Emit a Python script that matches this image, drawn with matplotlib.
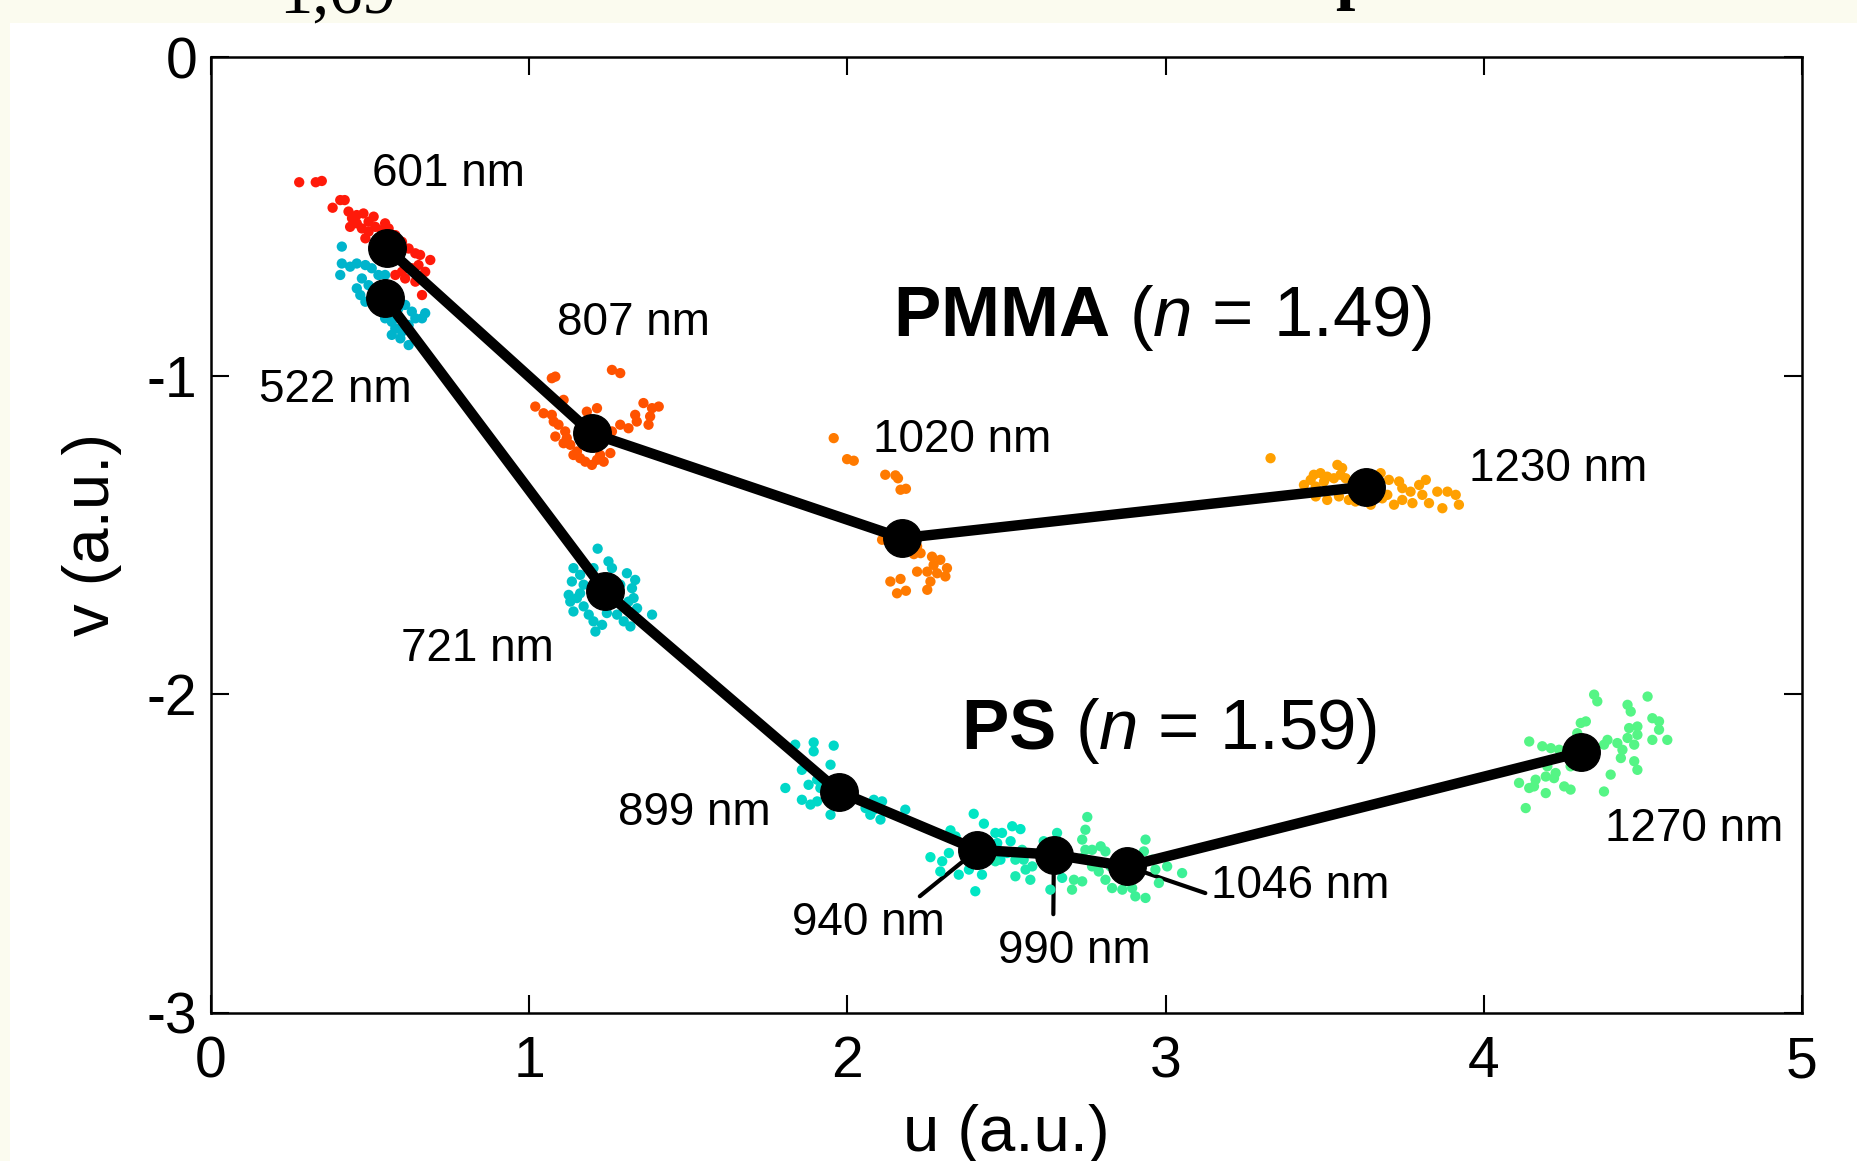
import matplotlib
matplotlib.use('Agg')
import matplotlib.pyplot as plt
import numpy as np

plt.rcParams['font.family'] = ['Liberation Sans', 'DejaVu Sans']
plt.rcParams['axes.unicode_minus'] = False
plt.rcParams['mathtext.fontset'] = 'custom'
plt.rcParams['mathtext.rm'] = 'Liberation Sans'
plt.rcParams['mathtext.bf'] = 'Liberation Sans:bold'
plt.rcParams['mathtext.it'] = 'Liberation Sans:italic'

# fitted cluster centres (u, v) for each wavelength
pmma_nm = ['601 nm', '807 nm', '1020 nm', '1230 nm']
pmma_u = [0.553, 1.197, 2.172, 3.629]
pmma_v = [-0.600, -1.181, -1.510, -1.348]

ps_nm = ['522 nm', '721 nm', '899 nm', '940 nm', '990 nm', '1046 nm', '1270 nm']
ps_u = [0.547, 1.239, 1.973, 2.408, 2.649, 2.879, 4.305]
ps_v = [-0.757, -1.677, -2.305, -2.488, -2.503, -2.540, -2.182]

cloud_601 = [(0.277, -0.393), (0.329, -0.393), (0.348, -0.389), (0.382, -0.473), (0.406, -0.449),
             (0.420, -0.449), (0.432, -0.485), (0.443, -0.506), (0.458, -0.522), (0.479, -0.491),
             (0.511, -0.501), (0.474, -0.538), (0.495, -0.548), (0.516, -0.533), (0.537, -0.543),
             (0.558, -0.538), (0.579, -0.559), (0.600, -0.580), (0.621, -0.601), (0.642, -0.616),
             (0.657, -0.621), (0.689, -0.637), (0.652, -0.653), (0.631, -0.663), (0.600, -0.674),
             (0.579, -0.684), (0.610, -0.695), (0.642, -0.705), (0.673, -0.674), (0.663, -0.747),
             (0.547, -0.522), (0.495, -0.517), (0.458, -0.496), (0.437, -0.533), (0.485, -0.569),
             (0.579, -0.616)]
cloud_522 = [(0.411, -0.595), (0.411, -0.648), (0.406, -0.684), (0.437, -0.658), (0.458, -0.648),
             (0.485, -0.653), (0.505, -0.663), (0.526, -0.684), (0.547, -0.684), (0.474, -0.695),
             (0.458, -0.726), (0.469, -0.747), (0.485, -0.768), (0.516, -0.778), (0.537, -0.799),
             (0.547, -0.820), (0.568, -0.831), (0.579, -0.852), (0.600, -0.862), (0.621, -0.841),
             (0.642, -0.820), (0.663, -0.820), (0.673, -0.804), (0.631, -0.799), (0.610, -0.778),
             (0.589, -0.789), (0.568, -0.872), (0.621, -0.904), (0.595, -0.883), (0.495, -0.716),
             (0.537, -0.716)]
cloud_807 = [(1.071, -1.008), (1.082, -1.003), (1.260, -0.982), (1.286, -0.992), (1.019, -1.097),
             (1.045, -1.118), (1.071, -1.123), (1.077, -1.144), (1.092, -1.154), (1.108, -1.076),
             (1.113, -1.175), (1.082, -1.191), (1.118, -1.196), (1.129, -1.217), (1.150, -1.238),
             (1.160, -1.259), (1.176, -1.270), (1.197, -1.280), (1.213, -1.264), (1.223, -1.249),
             (1.181, -1.113), (1.213, -1.102), (1.255, -1.243), (1.260, -1.175), (1.286, -1.154),
             (1.312, -1.165), (1.338, -1.144), (1.333, -1.123), (1.359, -1.086), (1.386, -1.102),
             (1.407, -1.097), (1.380, -1.128), (1.375, -1.154), (1.108, -1.212), (1.139, -1.249),
             (1.234, -1.270)]
cloud_721 = [(1.215, -1.543), (1.249, -1.583), (1.260, -1.604), (1.307, -1.620), (1.333, -1.641),
             (1.323, -1.667), (1.328, -1.698), (1.312, -1.709), (1.339, -1.730), (1.386, -1.750),
             (1.139, -1.604), (1.160, -1.625), (1.134, -1.646), (1.171, -1.656), (1.124, -1.688),
             (1.129, -1.709), (1.150, -1.698), (1.171, -1.724), (1.139, -1.740), (1.187, -1.750),
             (1.202, -1.771), (1.208, -1.803), (1.229, -1.782), (1.244, -1.745), (1.276, -1.750),
             (1.297, -1.771), (1.318, -1.787), (1.160, -1.683), (1.286, -1.656), (1.202, -1.604)]
cloud_1020 = [(1.957, -1.196), (1.999, -1.262), (2.020, -1.267), (2.119, -1.311), (2.151, -1.313),
              (2.159, -1.322), (2.167, -1.358), (2.184, -1.355), (2.109, -1.515), (2.209, -1.560),
              (2.219, -1.536), (2.219, -1.615), (2.251, -1.615), (2.266, -1.568), (2.292, -1.578),
              (2.271, -1.594), (2.261, -1.646), (2.282, -1.620), (2.313, -1.604), (2.308, -1.630),
              (2.251, -1.672), (2.135, -1.646), (2.167, -1.638), (2.156, -1.683), (2.184, -1.675),
              (2.230, -1.557)]
cloud_1230 = [(3.330, -1.259), (3.540, -1.280), (3.555, -1.290), (3.466, -1.311), (3.487, -1.306),
              (3.508, -1.317), (3.529, -1.322), (3.435, -1.343), (3.456, -1.327), (3.472, -1.348),
              (3.498, -1.332), (3.550, -1.311), (3.566, -1.322), (3.676, -1.306), (3.702, -1.327),
              (3.734, -1.332), (3.744, -1.353), (3.770, -1.364), (3.797, -1.343), (3.818, -1.327),
              (3.807, -1.374), (3.828, -1.400), (3.854, -1.364), (3.870, -1.416), (3.886, -1.364),
              (3.912, -1.374), (3.922, -1.405), (3.718, -1.405), (3.744, -1.390), (3.776, -1.400),
              (3.681, -1.385), (3.697, -1.374), (3.472, -1.379), (3.508, -1.390), (3.545, -1.379),
              (3.597, -1.395), (3.645, -1.405), (3.576, -1.390)]
cloud_899 = [(1.836, -2.158), (1.894, -2.151), (1.894, -2.179), (1.957, -2.161), (1.947, -2.221),
             (1.857, -2.237), (1.905, -2.268), (1.878, -2.284), (1.805, -2.294), (1.857, -2.331),
             (1.884, -2.346), (1.905, -2.336), (1.915, -2.294), (1.947, -2.378), (2.057, -2.357),
             (2.083, -2.331), (2.109, -2.336), (2.072, -2.378), (2.104, -2.393), (2.182, -2.362),
             (2.083, -2.362)]
cloud_940 = [(2.261, -2.511), (2.298, -2.524), (2.292, -2.556), (2.319, -2.498), (2.324, -2.427),
             (2.340, -2.446), (2.350, -2.566), (2.382, -2.550), (2.397, -2.375), (2.429, -2.406),
             (2.402, -2.618), (2.423, -2.566), (2.465, -2.435), (2.486, -2.435), (2.471, -2.467),
             (2.481, -2.519), (2.518, -2.414), (2.544, -2.423), (2.513, -2.461), (2.502, -2.498)]
cloud_990 = [(2.528, -2.519), (2.554, -2.519), (2.560, -2.550), (2.528, -2.571), (2.575, -2.582),
             (2.581, -2.540), (2.602, -2.498), (2.623, -2.519), (2.659, -2.435), (2.638, -2.613),
             (2.675, -2.576), (2.617, -2.461), (2.465, -2.524), (2.549, -2.488)]
cloud_1046 = [(2.754, -2.385), (2.748, -2.425), (2.738, -2.456), (2.748, -2.488), (2.769, -2.488),
              (2.796, -2.477), (2.811, -2.493), (2.738, -2.514), (2.769, -2.540), (2.790, -2.556),
              (2.811, -2.582), (2.712, -2.582), (2.738, -2.587), (2.706, -2.613), (2.827, -2.540),
              (2.832, -2.608), (2.864, -2.613), (2.905, -2.634), (2.937, -2.639), (2.895, -2.608),
              (2.937, -2.456), (2.932, -2.493), (2.968, -2.550), (2.979, -2.592), (3.005, -2.540),
              (3.052, -2.561), (2.958, -2.519), (2.874, -2.587), (2.843, -2.519)]
cloud_1270 = [(4.347, -2.001), (4.357, -2.022), (4.452, -2.033), (4.462, -2.054), (4.515, -2.007),
              (4.305, -2.090), (4.321, -2.085), (4.294, -2.122), (4.143, -2.148), (4.184, -2.163),
              (4.211, -2.169), (4.237, -2.174), (4.378, -2.158), (4.389, -2.143), (4.420, -2.153),
              (4.436, -2.174), (4.431, -2.200), (4.452, -2.137), (4.473, -2.158), (4.483, -2.127),
              (4.457, -2.106), (4.483, -2.101), (4.530, -2.075), (4.551, -2.085), (4.551, -2.111),
              (4.530, -2.143), (4.577, -2.143), (4.473, -2.210), (4.483, -2.237), (4.399, -2.252),
              (4.378, -2.305), (4.273, -2.299), (4.253, -2.289), (4.221, -2.263), (4.195, -2.258),
              (4.226, -2.247), (4.163, -2.268), (4.111, -2.278), (4.143, -2.294), (4.195, -2.310),
              (4.132, -2.357), (4.158, -2.289), (4.273, -2.226), (4.200, -2.226)]

clouds = [
    (cloud_601, '#ff1a0a'), (cloud_522, '#00b4cc'), (cloud_807, '#ff5200'),
    (cloud_721, '#00c4c8'), (cloud_1020, '#ff7a00'), (cloud_1230, '#ffa000'),
    (cloud_899, '#00d8c8'), (cloud_940, '#00e6c4'), (cloud_990, '#1aeab0'),
    (cloud_1046, '#3cf096'), (cloud_1270, '#55f585'),
]

fig = plt.figure(figsize=(18.58, 11.61), dpi=100, facecolor='#fbfbef')
# white panel of the pasted chart, behind everything
bg = fig.add_axes([10 / 1858, 0, 1, 1 - 23 / 1161], zorder=-5)
bg.set_facecolor('white')
bg.set_xticks([])
bg.set_yticks([])
for sp in bg.spines.values():
    sp.set_visible(False)
# clipped text from the slide above
fig.text(0.150, 0.989, '1,69', family='Liberation Serif', fontsize=48, va='baseline')
fig.text(0.7185, 1.0035, 'p', family='Liberation Serif', fontsize=50, fontweight='bold', va='baseline')

ax = fig.add_axes([0.1136, 0.1275, 0.8562, 0.8234], zorder=1)
ax.set_facecolor('white')

for pts, col in clouds:
    arr = np.array(pts)
    ax.scatter(arr[:, 0], arr[:, 1], s=55, color=col, edgecolors='none', zorder=2)

for us, vs in [(pmma_u, pmma_v), (ps_u, ps_v)]:
    ax.plot(us, vs, '-', color='black', lw=7.5, zorder=3, solid_capstyle='round')
    ax.plot(us, vs, 'o', color='black', ms=27, zorder=4)

lab = dict(fontsize=33, ha='center', va='center', zorder=5)
# plain labels
ax.text(0.745, -0.368, pmma_nm[0], **lab)
ax.text(1.329, -0.836, pmma_nm[1], **lab)
ax.text(2.360, -1.201, pmma_nm[2], **lab)
ax.text(4.233, -1.294, pmma_nm[3], **lab)
ax.text(0.391, -1.045, ps_nm[0], **lab)
ax.text(0.838, -1.859, ps_nm[1], **lab)
ax.text(1.519, -2.372, ps_nm[2], **lab)
ax.text(4.661, -2.424, ps_nm[6], **lab)

# labels with leader lines
lead = dict(arrowstyle='-', lw=3, color='black', shrinkB=0)
ax.annotate(ps_nm[3], xy=(ps_u[3], ps_v[3]), xytext=(2.066, -2.717), fontsize=33,
            ha='center', va='center', zorder=1,
            arrowprops=dict(lead, relpos=(0.8, 1.0), shrinkA=2))
ax.annotate(ps_nm[4], xy=(ps_u[4], ps_v[4]), xytext=(2.714, -2.807), fontsize=33,
            ha='center', va='center', zorder=1,
            arrowprops=dict(lead, relpos=(0.36, 1.0), shrinkA=9))
ax.annotate(ps_nm[5], xy=(ps_u[5], ps_v[5]), xytext=(3.142, -2.602), fontsize=33,
            ha='left', va='center', zorder=1,
            arrowprops=dict(lead, relpos=(0.0, 0.3), shrinkA=2))

ax.text(2.99, -0.818, r'$\mathbf{PMMA}$ ($\mathit{n}$ = 1.49)', fontsize=51, ha='center', va='center')
ax.text(3.01, -2.115, r'$\mathbf{PS}$ ($\mathit{n}$ = 1.59)', fontsize=51, ha='center', va='center')

ax.set_xlim(0, 5)
ax.set_ylim(-3, 0)
ax.set_xticks([0, 1, 2, 3, 4, 5])
ax.set_yticks([0, -1, -2, -3])
ax.tick_params(direction='in', length=13, width=1.5, top=True, right=True, labelsize=41)
ax.tick_params(axis='x', pad=16)
ax.tick_params(axis='y', pad=10)
for sp in ax.spines.values():
    sp.set_linewidth(1.8)

ax.set_xlabel('u (a.u.)', fontsize=47)
ax.xaxis.set_label_coords(0.5, -0.095)
ax.set_ylabel('v (a.u.)', fontsize=47)
ax.yaxis.label.set_va('center')
ax.yaxis.set_label_coords(-0.075, 0.5)

plt.savefig('out.png', dpi=100, facecolor=fig.get_facecolor())
